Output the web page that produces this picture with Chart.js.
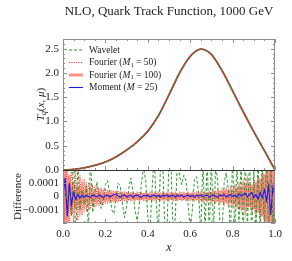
<!DOCTYPE html>
<html><head><meta charset="utf-8">
<script src="https://cdn.jsdelivr.net/npm/chart.js@4"></script>
<style>html,body{margin:0;padding:0;background:#fff;overflow:hidden}</style>
</head><body><canvas id="c" width="292" height="261" style="display:block;width:292px;height:261px"></canvas>
<script>
const titleText = "NLO, Quark Track Function, 1000 GeV";
const seriesNames = ["Wavelet", "Fourier (M1 = 50)", "Fourier (M1 = 100)", "Moment (M = 25)"];

// Top panel: track function T_q(x, mu)
const curveX = [0,0.05,0.10,0.15,0.20,0.25,0.30,0.35,0.40,0.45,0.50,0.55,0.60,0.65,0.70,0.75,0.80,0.85,0.90,0.95,1.00];
const curveT = [0,0.015,0.045,0.095,0.165,0.27,0.41,0.58,0.80,1.12,1.55,2.00,2.34,2.49,2.38,2.05,1.63,1.20,0.79,0.40,0];

// Bottom panel: differences (units of 1e-4)
const diffX = [0,0.01,0.02,0.03,0.04,0.05,0.06,0.07,0.08,0.09,0.10,0.11,0.12,0.13,0.14,0.15,0.16,0.17,0.18,0.19,0.20,
0.21,0.22,0.23,0.24,0.25,0.26,0.27,0.28,0.29,0.30,0.31,0.32,0.33,0.34,0.35,0.36,0.37,0.38,0.39,0.40,
0.41,0.42,0.43,0.44,0.45,0.46,0.47,0.48,0.49,0.50,0.51,0.52,0.53,0.54,0.55,0.56,0.57,0.58,0.59,0.60,
0.61,0.62,0.63,0.64,0.65,0.66,0.67,0.68,0.69,0.70,0.71,0.72,0.73,0.74,0.75,0.76,0.77,0.78,0.79,0.80,
0.81,0.82,0.83,0.84,0.85,0.86,0.87,0.88,0.89,0.90,0.91,0.92,0.93,0.94,0.95,0.96,0.97,0.98,0.99,1.00];
const diffWavelet = [0,0.3,-0.5,1.0,-1.5,3.5,-3.5,2.5,-1.0,0.5,-0.6,
0.8,-2.5,3.0,-1.2,0.3,1.1,0.2,-0.9,-0.3,0.9,
1.2,0.3,-1.0,-1.3,-0.2,1.0,0.8,-0.5,-1.6,-0.8,
0.6,1.4,0.4,-1.1,-1.8,-0.6,1.0,2.2,1.2,-1.5,
-2.8,0.5,3.0,-0.5,-3.0,2.5,3.0,-2.5,-3.0,3.0,
2.0,-3.0,-1.5,3.0,1.5,0.9,1.6,1.2,-0.5,-2.5,
-1.0,1.3,1.5,0.2,-3.0,3.0,-3.0,3.0,-3.0,3.0,
-3.0,2.5,1.0,-2.0,-3.0,1.0,1.8,0.5,-3.0,3.0,
-3.0,3.0,-2.0,2.5,-3.0,3.0,-2.5,3.0,-3.0,2.0,
-3.0,3.0,-3.0,3.0,-2.5,3.0,-3.0,2.5,-2.0,0];
const diffFourier50 = [4.0,-3.6,3.3,-3.0,2.6,-2.3,2.0,-1.8,1.6,-1.4,1.3,
-1.15,1.05,-0.95,0.9,-0.82,0.76,-0.7,0.66,-0.62,0.58,
-0.54,0.5,-0.48,0.45,-0.43,0.41,-0.39,0.37,-0.35,0.34,
-0.33,0.32,-0.31,0.3,-0.29,0.3,-0.28,0.29,-0.3,0.27,
-0.28,0.3,-0.29,0.27,-0.3,0.28,-0.3,0.29,-0.27,0.3,
-0.28,0.29,-0.3,0.27,-0.29,0.3,-0.28,0.3,-0.29,0.28,
-0.3,0.29,-0.31,0.3,-0.32,0.31,-0.33,0.34,-0.35,0.36,
-0.38,0.4,-0.42,0.44,-0.46,0.48,-0.5,0.52,-0.54,0.56,
-0.6,0.65,-0.7,0.75,-0.82,0.9,-0.98,1.08,-1.2,1.32,
-1.45,1.6,-1.8,2.0,-2.3,2.6,-3.0,3.4,-3.8,4.0];
const diffFourier100 = [-2.6,2.2,-1.9,1.6,-1.3,1.1,-0.95,0.8,-0.7,0.62,-0.55,
0.5,-0.45,0.41,-0.38,0.35,-0.32,0.3,-0.28,0.26,-0.25,
0.24,-0.23,0.22,-0.21,0.2,-0.2,0.19,-0.19,0.18,-0.18,
0.17,-0.17,0.17,-0.16,0.16,-0.17,0.16,-0.16,0.17,-0.16,
0.16,-0.17,0.16,-0.16,0.17,-0.16,0.17,-0.16,0.16,-0.17,
0.16,-0.16,0.17,-0.16,0.17,-0.16,0.16,-0.17,0.17,-0.16,
0.17,-0.17,0.18,-0.18,0.19,-0.19,0.2,-0.21,0.22,-0.23,
0.24,-0.25,0.26,-0.28,0.3,-0.32,0.34,-0.36,0.38,-0.4,
0.43,-0.46,0.5,-0.55,0.6,-0.66,0.72,-0.8,0.88,-0.98,
1.08,-1.2,1.35,-1.5,1.7,-1.9,2.2,-2.5,2.8,-3.0];
const diffMoment = [0,1.4,-1.5,1.0,-0.6,0.3,-0.2,0.15,-0.1,0.1,-0.05,
0.08,0,-0.06,0.1,0.04,-0.05,0.12,0.02,-0.08,0.06,
0.1,-0.04,0.05,0.14,0.2,0.05,-0.06,0.08,0.12,-0.03,
0.05,0.1,-0.05,0.07,0.12,0.02,-0.06,0.09,0.05,0.1,
-0.04,0.06,0.12,0,0.08,-0.05,0.1,0.04,0.12,-0.02,
0.06,0.1,-0.04,0.08,0.02,0.12,-0.05,0.06,0.1,0,
0.08,-0.06,0.1,0.04,0.12,-0.03,0.07,0.1,-0.05,0.06,
0.12,0.02,-0.07,0.1,0.05,0.14,-0.04,0.08,0.15,0.02,
0.1,-0.06,0.18,0.05,0.12,0.25,-0.05,0.15,0.3,-0.1,
0.15,-0.2,0.3,-0.1,0.5,-0.3,0.8,-1.4,0.7,0];

const xTicks = [0,0.2,0.4,0.6,0.8,1.0];
const xTickLabels = ["0.0","0.2","0.4","0.6","0.8","1.0"];
const yTopTicks = [0,0.5,1,1.5,2,2.5];
const yTopTickLabels = ["0.0","0.5","1.0","1.5","2.0","2.5"];
const yDiffTicks = [-1,0,1];
const yDiffTickLabels = ["\u22120.0001","0","0.0001"];

const legendParts = [
  [{t:"Wavelet"}],
  [{t:"Fourier ("},{t:"M",i:1},{t:"1",sub:1},{t:" = 50)"}],
  [{t:"Fourier ("},{t:"M",i:1},{t:"1",sub:1},{t:" = 100)"}],
  [{t:"Moment ("},{t:"M",i:1},{t:" = 25)"}]
];
const yTopTitleParts = [{t:"T",i:1},{t:"q",i:1,sub:1},{t:"("},{t:"x",i:1},{t:", "},{t:"\u03bc",i:1},{t:")"}];
const yDiffTitleParts = [{t:"Difference"}];

const FAM = '"Liberation Serif", "DejaVu Serif", serif';
const TXT = '#222';

const styles = [
  {color:'#2b982b', width:1, dash:[3,2]},
  {color:'#ff2a1a', width:1, dash:[1,1.4]},
  {color:'rgba(255,70,60,0.6)', width:3, dash:[]},
  {color:'#1a1aee', width:1.1, dash:[]}
];
// top-panel variants (the curves overlap there)
const topStyles = [
  {color:'#2b982b', width:1.2, dash:[3,2]},
  {color:'#ee2a1a', width:1.2, dash:[1,1.4]},
  {color:'rgba(230,50,40,0.85)', width:1.8, dash:[]},
  {color:'#1a1aee', width:1.2, dash:[]}
];

function pts(xs, ys){ return xs.map((x,i)=>({x:x, y:ys[i]})); }

const topOrders = [10,11,12,13];
const diffSeries = [diffWavelet, diffFourier50, diffFourier100, diffMoment];
const diffOrders = [1,2,3,0];

const datasets = [];
seriesNames.forEach((name,k)=>{
  datasets.push({label:name, data:pts(curveX, curveT), yAxisID:'yc', xAxisID:'x',
    borderColor:topStyles[k].color, borderWidth:topStyles[k].width, borderDash:topStyles[k].dash,
    pointRadius:0, fill:false, cubicInterpolationMode:'monotone', order:topOrders[k]});
});
seriesNames.forEach((name,k)=>{
  datasets.push({label:name+' diff', data:pts(diffX, diffSeries[k]), yAxisID:'yd', xAxisID:'x',
    borderColor:styles[k].color, borderWidth:styles[k].width, borderDash:styles[k].dash,
    pointRadius:0, fill:false, tension:0, order:diffOrders[k]});
});

function richWidth(ctx, parts, size){
  let w=0;
  for(const p of parts){
    const s = p.sub ? size*0.7 : size;
    ctx.font = (p.i?'italic ':'') + s + 'px ' + FAM;
    w += ctx.measureText(p.t).width;
  }
  return w;
}
function drawRich(ctx, parts, x, y, size){
  let cx = x;
  ctx.textBaseline = 'middle';
  ctx.textAlign = 'left';
  for(const p of parts){
    const s = p.sub ? size*0.7 : size;
    ctx.font = (p.i?'italic ':'') + s + 'px ' + FAM;
    ctx.fillText(p.t, cx, y + (p.sub ? size*0.28 : 0));
    cx += ctx.measureText(p.t).width;
  }
}

const decor = {
  id:'decor',
  afterDatasetsDraw(chart){
    const ctx = chart.ctx;
    const x = chart.scales.x, yc = chart.scales.yc, yd = chart.scales.yd;
    const L = Math.round(x.left), R = Math.round(x.right);
    ctx.save();
    ctx.strokeStyle = '#8c8c8c';
    ctx.lineWidth = 1;
    ctx.setLineDash([]);
    const T1 = Math.round(yc.top), B1 = Math.round(yc.bottom), T2 = Math.round(yd.top), B2 = Math.round(yd.bottom);
    ctx.strokeRect(L+0.5, T1+0.5, R-L-1, B1-T1);
    ctx.strokeRect(L+0.5, T2+0.5, R-L-1, B2-T2-1);
    ctx.beginPath();
    for(let i=0;i<=27;i++){
      const v = i/10; const py = Math.round(yc.getPixelForValue(v))+0.5;
      const len = (i%5===0)?4:2;
      ctx.moveTo(L, py); ctx.lineTo(L+len, py);
      ctx.moveTo(R, py); ctx.lineTo(R-len, py);
    }
    for(let i=-4;i<=4;i++){
      const v = i/2; const py = Math.round(yd.getPixelForValue(v))+0.5;
      const len = (i%2===0)?4:2;
      ctx.moveTo(L, py); ctx.lineTo(L+len, py);
      ctx.moveTo(R, py); ctx.lineTo(R-len, py);
    }
    for(let i=0;i<=20;i++){
      const v = i/20; const px = Math.round(x.getPixelForValue(v))+0.5;
      const len = (i%4===0)?4:2;
      ctx.moveTo(px, T1); ctx.lineTo(px, T1+len);
      ctx.moveTo(px, B2); ctx.lineTo(px, B2-len);
      ctx.moveTo(px, B1); ctx.lineTo(px, B1-len);
    }
    ctx.stroke();
    ctx.strokeStyle = '#333';
    ctx.beginPath(); ctx.moveTo(L, B1+0.5); ctx.lineTo(R, B1+0.5); ctx.stroke();

    const rows = [50, 62.5, 75, 87.5];
    legendParts.forEach((parts,k)=>{
      const st = styles[k];
      ctx.strokeStyle = st.color; ctx.lineWidth = st.width; ctx.setLineDash(st.dash);
      ctx.beginPath(); ctx.moveTo(69, rows[k]); ctx.lineTo(83, rows[k]); ctx.stroke();
      ctx.fillStyle = TXT;
      drawRich(ctx, parts, 89, rows[k], 9.5);
    });
    ctx.setLineDash([]);

    ctx.fillStyle = TXT;
    const size = 11;
    let w = richWidth(ctx, yTopTitleParts, size);
    ctx.save(); ctx.translate(41, (yc.top+yc.bottom)/2); ctx.rotate(-Math.PI/2);
    drawRich(ctx, yTopTitleParts, -w/2, 0, size); ctx.restore();
    w = richWidth(ctx, yDiffTitleParts, size);
    ctx.save(); ctx.translate(18, (yd.top+yd.bottom)/2); ctx.rotate(-Math.PI/2);
    drawRich(ctx, yDiffTitleParts, -w/2, 0, size); ctx.restore();
    ctx.restore();
  }
};

const tickFont = {family: FAM, size: 11};

new Chart(document.getElementById('c'), {
  type:'line',
  data:{datasets},
  plugins:[decor],
  options:{
    responsive:false, animation:false, devicePixelRatio:1,
    layout:{padding:{left:0, right:17, top:0, bottom:0}},
    plugins:{
      legend:{display:false}, tooltip:{enabled:false},
      title:{display:true, text:titleText, fullSize:false, color:TXT,
        font:{family:FAM, size:13, weight:'normal'}, padding:{top:4, bottom:19.4}}
    },
    scales:{
      x:{type:'linear', position:'bottom', min:0, max:1,
        grid:{display:false, drawTicks:false}, border:{display:false},
        afterBuildTicks:s=>{ s.ticks = xTicks.map(v=>({value:v})); },
        ticks:{autoSkip:false, maxRotation:0, padding:5, color:TXT, font:tickFont,
          callback:(v,i)=>xTickLabels[i]},
        title:{display:true, text:'x', color:TXT, font:{family:FAM, size:12, style:'italic'}, padding:{top:0, bottom:6}},
        afterFit:s=>{ s.height = 38; }
      },
      yd:{type:'linear', position:'left', stack:'v', stackWeight:53, min:-2, max:2,
        grid:{display:false, drawTicks:false}, border:{display:false},
        afterBuildTicks:s=>{ s.ticks = yDiffTicks.map(v=>({value:v})); },
        ticks:{autoSkip:false, padding:4, color:TXT, font:tickFont, callback:(v,i)=>yDiffTickLabels[i]},
        afterFit:s=>{ s.width = 63; }
      },
      yc:{type:'linear', position:'left', stack:'v', stackWeight:131, min:0, max:2.7,
        grid:{display:false, drawTicks:false}, border:{display:false},
        afterBuildTicks:s=>{ s.ticks = yTopTicks.map(v=>({value:v})); },
        ticks:{autoSkip:false, padding:4, color:TXT, font:tickFont, callback:(v,i)=>yTopTickLabels[i]},
        afterFit:s=>{ s.width = 63; }
      }
    }
  }
});
</script>
</body></html>
